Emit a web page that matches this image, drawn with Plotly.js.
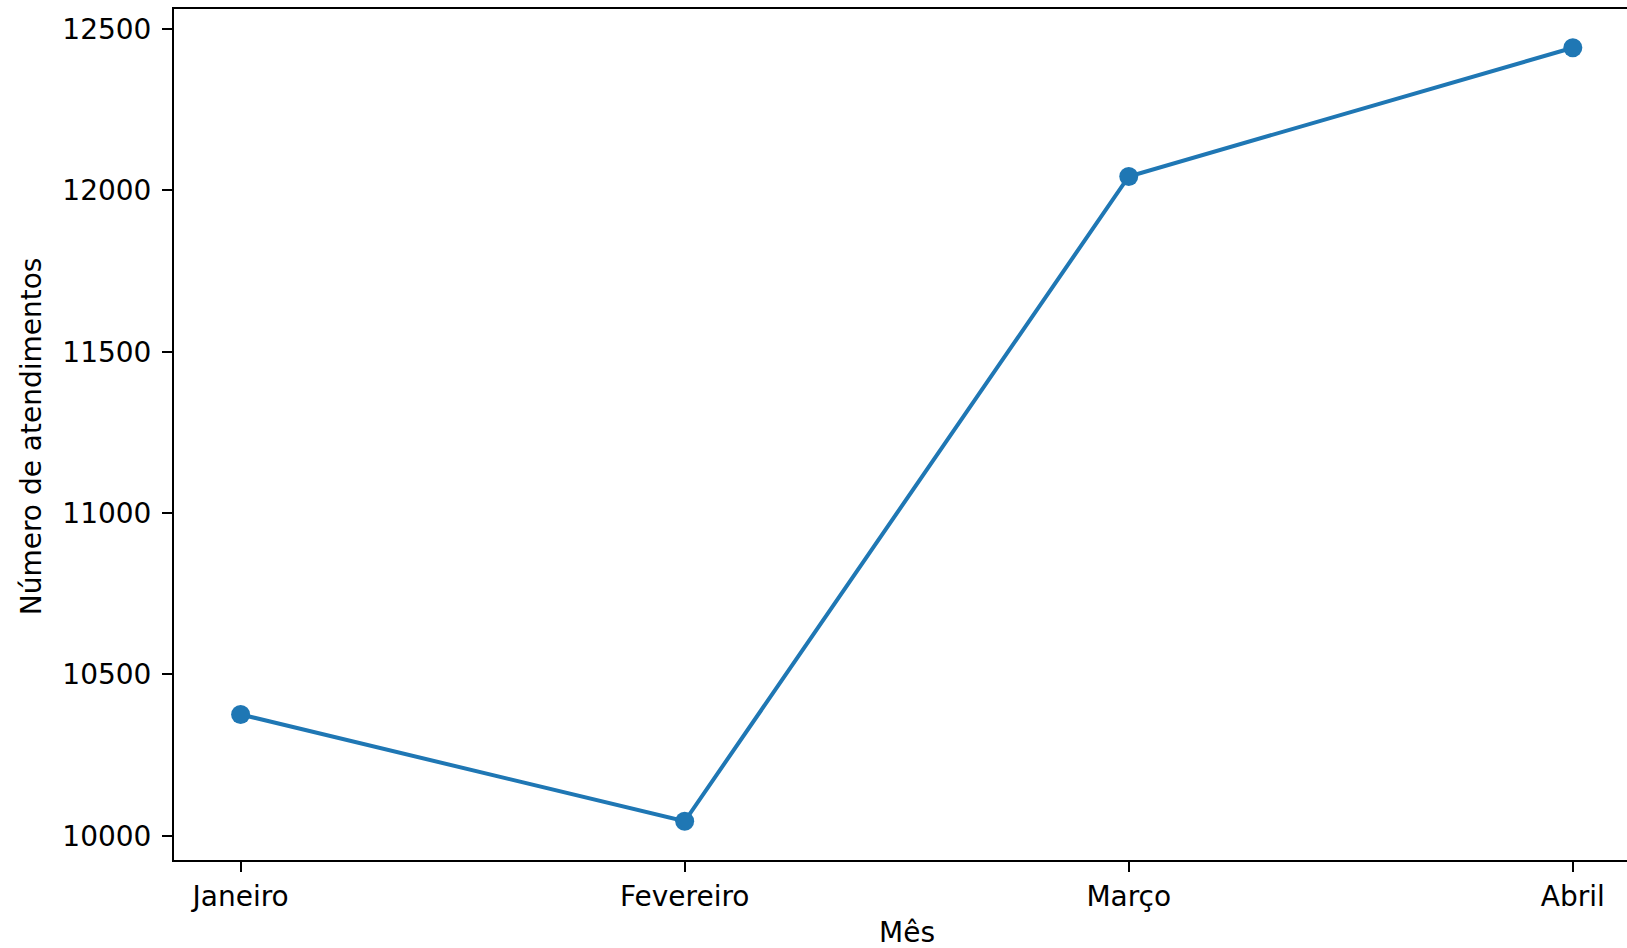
<!DOCTYPE html>
<html>
<head>
<meta charset="utf-8">
<script src="https://cdn.plot.ly/plotly-3.0.1.min.js"></script>
<style>html,body{margin:0;padding:0;background:#fff;}#chart{width:1627px;height:948px;}</style>
</head>
<body>
<div id="chart"></div>
<script>
const meses = ["Janeiro", "Fevereiro", "Março", "Abril"];
const atendimentos = [10376, 10045, 12043, 12442];
const yTicks = [10000, 10500, 11000, 11500, 12000, 12500];
const xTitle = "Mês";
const yTitle = "Número de atendimentos";

const FONT = "DejaVu Sans, sans-serif";
const FS = 28;
const xIdx = meses.map((_, i) => i);

const trace = {
  x: xIdx,
  y: atendimentos,
  type: "scatter",
  mode: "lines+markers",
  line: {color: "#1f77b4", width: 4},
  marker: {color: "#1f77b4", size: 19},
  hoverinfo: "skip"
};

const layout = {
  width: 1627,
  height: 948,
  margin: {l: 174, r: 0, t: 9, b: 88, pad: 0},
  paper_bgcolor: "#fff",
  plot_bgcolor: "#fff",
  showlegend: false,
  font: {family: FONT, size: FS, color: "#000"},
  xaxis: {
    range: [-0.15, 3.122],
    tickmode: "array",
    tickvals: xIdx,
    ticktext: meses,
    ticks: "outside",
    ticklen: 10,
    tickwidth: 2,
    tickcolor: "#000",
    ticklabelstandoff: 0,
    showgrid: false,
    zeroline: false,
    showline: true,
    linecolor: "#000",
    linewidth: 2,
    mirror: true,
    tickfont: {family: FONT, size: FS, color: "#000"}
  },
  yaxis: {
    range: [9925, 12562],
    tickmode: "array",
    tickvals: yTicks,
    ticktext: yTicks.map(String),
    ticks: "outside",
    ticklen: 10,
    tickwidth: 2,
    tickcolor: "#000",
    ticklabelstandoff: 5,
    showgrid: false,
    zeroline: false,
    showline: true,
    linecolor: "#000",
    linewidth: 2,
    mirror: false,
    tickfont: {family: FONT, size: FS, color: "#000"}
  },
  annotations: [
    {
      text: xTitle,
      xref: "x", yref: "paper",
      x: 1.5, y: -0.085,
      xanchor: "center", yanchor: "middle",
      showarrow: false,
      font: {family: FONT, size: FS, color: "#000"}
    },
    {
      text: yTitle,
      xref: "paper", yref: "paper",
      x: -0.0984, y: 0.498,
      xanchor: "center", yanchor: "middle",
      textangle: -90,
      showarrow: false,
      font: {family: FONT, size: FS, color: "#000"}
    }
  ]
};

Plotly.newPlot("chart", [trace], layout, {staticPlot: true, displayModeBar: false});
</script>
</body>
</html>
